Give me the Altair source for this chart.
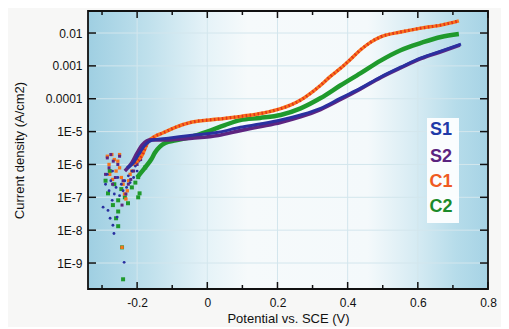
import altair as alt
import pandas as pd

# ---------------- data ----------------
series_names = ["S1", "S2", "C1", "C2"]
series_colors = ["#2a30a0", "#5e2580", "#f7741c", "#1f9a2c"]
legend_colors = ["#1f3aa8", "#5b2480", "#ef5a22", "#1b8a2a"]

# smooth polarisation curves (potential V vs SCE, current density A/cm2)
s1_v = [-0.229, -0.211, -0.197, -0.177, -0.157, -0.111, -0.043, 0.031, 0.094, 0.15,
        0.209, 0.266, 0.323, 0.38, 0.437, 0.494, 0.551, 0.609, 0.666, 0.723]
s1_j = [7.9e-7, 1.1e-6, 1.9e-6, 3.9e-6, 5.5e-6, 6.3e-6, 7.8e-6, 9.5e-6, 1.35e-5, 1.7e-5,
        2.24e-5, 3.2e-5, 5.1e-5, 1.05e-4, 2.1e-4, 4.6e-4, 9.1e-4, 1.74e-3, 2.8e-3, 4.6e-3]

s2_v = [-0.235, -0.215, -0.2, -0.185, -0.16, -0.11, -0.043, 0.031, 0.094, 0.15,
        0.209, 0.266, 0.323, 0.38, 0.437, 0.494, 0.551, 0.609, 0.666, 0.72]
s2_j = [6.3e-7, 1.12e-6, 2.24e-6, 4.0e-6, 5.6e-6, 5.6e-6, 6.3e-6, 7.6e-6, 1.07e-5, 1.41e-5,
        1.9e-5, 2.8e-5, 4.7e-5, 9.5e-5, 2.0e-4, 4.4e-4, 8.7e-4, 1.66e-3, 2.7e-3, 4.3e-3]

c1_v = [-0.206, -0.186, -0.169, -0.15, -0.129, -0.091, -0.043, 0.031, 0.1, 0.16,
        0.209, 0.24, 0.266, 0.295, 0.323, 0.35, 0.38, 0.408, 0.437, 0.465,
        0.494, 0.551, 0.609, 0.666, 0.717]
c1_j = [1.1e-6, 1.9e-6, 4.8e-6, 7.1e-6, 8.9e-6, 1.35e-5, 1.95e-5, 2.4e-5, 2.95e-5, 3.7e-5,
        5.0e-5, 6.6e-5, 9.1e-5, 1.48e-4, 2.57e-4, 4.7e-4, 8.5e-4, 1.58e-3, 3.1e-3, 5.2e-3,
        7.6e-3, 1.07e-2, 1.41e-2, 1.74e-2, 2.34e-2]

c2_v = [-0.2, -0.177, -0.16, -0.149, -0.12, -0.09, -0.043, 0.0, 0.05, 0.094,
        0.15, 0.209, 0.266, 0.323, 0.38, 0.437, 0.494, 0.551, 0.609, 0.666, 0.717]
c2_j = [4.0e-7, 8.1e-7, 1.41e-6, 2.3e-6, 4.5e-6, 5.4e-6, 7.1e-6, 1.0e-5, 1.58e-5, 2.24e-5,
        2.6e-5, 3.2e-5, 5.1e-5, 1.05e-4, 2.57e-4, 6.0e-4, 1.45e-3, 3.0e-3, 5.0e-3, 7.6e-3, 9.3e-3]

# noisy points near the corrosion potential
s1_sv = [-0.297, -0.283, -0.277, -0.269, -0.266, -0.257, -0.237, -0.271, -0.29, -0.285,
         -0.28, -0.275, -0.27, -0.265, -0.26, -0.255, -0.25, -0.245, -0.24, -0.235,
         -0.23, -0.225, -0.22, -0.215, -0.21, -0.205, -0.2, -0.195, -0.19, -0.185]
s1_sj = [5.0e-8, 4.0e-8, 2.3e-8, 1.41e-8, 7.9e-9, 2.5e-8, 1.05e-9, 8.1e-8, 2.5e-7, 5.0e-7,
         1.58e-7, 3.2e-7, 6.3e-7, 1.26e-7, 2.0e-7, 4.0e-7, 1.12e-7, 2.5e-7, 1.58e-7, 3.2e-7,
         2.0e-7, 4.5e-7, 2.8e-7, 6.3e-7, 4.0e-7, 8.9e-7, 6.3e-7, 1.26e-6, 2.2e-6, 3.2e-6]

s2_sv = [-0.285, -0.28, -0.275, -0.268, -0.262, -0.255, -0.25, -0.243, -0.24, -0.232,
         -0.225, -0.218, -0.21, -0.2, -0.19, -0.18, -0.29, -0.27]
s2_sj = [1.58e-6, 7.9e-7, 2.0e-6, 1.26e-6, 4.0e-7, 1.0e-6, 1.78e-6, 5.8e-8, 3.2e-7, 1.26e-7,
         2.5e-7, 3.5e-7, 6.3e-7, 1.0e-6, 1.41e-6, 3.2e-6, 5.0e-7, 2.5e-7]

c1_sv = [-0.285, -0.28, -0.272, -0.265, -0.26, -0.255, -0.25, -0.245, -0.24, -0.236,
         -0.232, -0.228, -0.224, -0.22, -0.215, -0.21, -0.243, -0.278, -0.27, -0.25,
         -0.2, -0.195]
c1_sj = [1.78e-6, 1.0e-6, 2.0e-6, 1.41e-6, 6.3e-7, 1.26e-6, 7.9e-7, 4.0e-7, 2.5e-7, 1.26e-7,
         8.9e-8, 1.58e-7, 3.2e-7, 5.0e-7, 6.3e-7, 1.0e-6, 3.0e-9, 5.0e-7, 3.5e-7, 2.0e-6,
         1.26e-6, 1.58e-6]

c2_sv = [-0.283, -0.269, -0.254, -0.254, -0.26, -0.254, -0.243, -0.24, -0.226, -0.197,
         -0.193, -0.197, -0.177, -0.29, -0.278, -0.265, -0.245, -0.235, -0.215, -0.205]
c2_sj = [1.32e-7, 5.8e-8, 8.1e-8, 3.7e-8, 2.3e-8, 1.32e-8, 3.0e-9, 3.2e-10, 6.6e-8, 1.0e-7,
         1.32e-7, 4.1e-7, 8.1e-7, 3.2e-7, 6.3e-7, 2.5e-7, 1.78e-7, 1.0e-7, 2.0e-7, 2.8e-7]

x_major = [-0.2, 0.0, 0.2, 0.4, 0.6, 0.8]
x_minor = [-0.3, -0.1, 0.1, 0.3, 0.5, 0.7]
y_major = [1e-9, 1e-8, 1e-7, 1e-6, 1e-5, 1e-4, 1e-3, 1e-2]

# ---------------- chart ----------------
W, H = 400, 278
FONT = "Liberation Sans"
GRID = "#d3e6ed"

xs = alt.Scale(domain=[-0.34, 0.8], nice=False, zero=False)
ys = alt.Scale(type="log", domain=[1.62e-10, 0.0468], nice=False)

xaxis = alt.Axis(values=x_major, labelExpr="'' + datum.value", grid=False, ticks=False,
                 domain=False, labelFont=FONT, labelFontSize=12, labelColor="#111",
                 labelPadding=8, title="Potential vs. SCE (V)", titleFont=FONT,
                 titleFontSize=13, titleFontWeight="normal", titleColor="#111",
                 titlePadding=4, labelFlush=False)
yaxis = alt.Axis(values=y_major,
                 labelExpr="datum.value >= 0.0001 ? '' + datum.value : '1E' + round(log(datum.value) / LN10)",
                 grid=False, ticks=False, domain=False, labelFont=FONT, labelFontSize=12,
                 labelColor="#111", labelPadding=6, title="Current density (A/cm2)",
                 titleFont=FONT, titleFontSize=13, titleFontWeight="normal",
                 titleColor="#111", titleX=-69, titleY=H / 2, titleAlign="center",
                 titleBaseline="middle", titleAngle=270)

one = pd.DataFrame({"a": [0]})

bg = alt.Chart(one).mark_rect(
    fill=alt.LinearGradient(
        gradient="linear", x1=0, x2=1, y1=0, y2=0,
        stops=[alt.GradientStop(offset=0, color="#9fcfe2"),
               alt.GradientStop(offset=0.15, color="#bfe0ec"),
               alt.GradientStop(offset=0.3, color="#e6f3f8"),
               alt.GradientStop(offset=0.4, color="#f6fafb"),
               alt.GradientStop(offset=0.7, color="#f4f9fb"),
               alt.GradientStop(offset=0.82, color="#d6ebf3"),
               alt.GradientStop(offset=0.92, color="#b6dcea"),
               alt.GradientStop(offset=1, color="#a6d3e5")]),
).encode(x=alt.value(0), x2=alt.value(W), y=alt.value(0), y2=alt.value(H))

xmaj_df = pd.DataFrame({"v": x_major})
xmin_df = pd.DataFrame({"v": x_minor})
ymaj_df = pd.DataFrame({"j": y_major})

xgrid = alt.Chart(xmaj_df).mark_rule(color=GRID, strokeWidth=1).encode(
    x=alt.X("v:Q", scale=xs, axis=xaxis))
ygrid = alt.Chart(ymaj_df).mark_rule(color=GRID, strokeWidth=1).encode(
    y=alt.Y("j:Q", scale=ys, axis=yaxis))

tick_style = dict(color="#111", strokeWidth=1.5)
xt_bot = alt.Chart(xmaj_df).mark_rule(**tick_style).encode(
    x=alt.X("v:Q", scale=xs, axis=xaxis), y=alt.value(H), y2=alt.value(H - 7))
xt_top = alt.Chart(xmaj_df).mark_rule(**tick_style).encode(
    x=alt.X("v:Q", scale=xs, axis=xaxis), y=alt.value(0), y2=alt.value(7))
xm_bot = alt.Chart(xmin_df).mark_rule(**tick_style).encode(
    x=alt.X("v:Q", scale=xs, axis=xaxis), y=alt.value(H), y2=alt.value(H - 4))
xm_top = alt.Chart(xmin_df).mark_rule(**tick_style).encode(
    x=alt.X("v:Q", scale=xs, axis=xaxis), y=alt.value(0), y2=alt.value(4))
yt_l = alt.Chart(ymaj_df).mark_rule(**tick_style).encode(
    y=alt.Y("j:Q", scale=ys, axis=yaxis), x=alt.value(0), x2=alt.value(8))
yt_r = alt.Chart(ymaj_df).mark_rule(**tick_style).encode(
    y=alt.Y("j:Q", scale=ys, axis=yaxis), x=alt.value(W), x2=alt.value(W - 8))

def enc(ch):
    return ch.encode(x=alt.X("v:Q", scale=xs, axis=xaxis),
                     y=alt.Y("j:Q", scale=ys, axis=yaxis))

def line(v, j, color, width, **kw):
    return enc(alt.Chart(pd.DataFrame({"v": v, "j": j})).mark_line(
        color=color, strokeWidth=width, interpolate="monotone", **kw))

def pts(v, j, color, size, shape):
    return enc(alt.Chart(pd.DataFrame({"v": v, "j": j})).mark_point(
        color=color, fill=color, filled=True, size=size, shape=shape, opacity=1))

c2_line = line(c2_v, c2_j, series_colors[3], 4.5)
c1_line = line(c1_v, c1_j, series_colors[2], 3.5)
c1_dots = line(c1_v, c1_j, "#e2301c", 3.0, strokeDash=[1.5, 2.5])
s2_line = line(s2_v, s2_j, series_colors[1], 3.6)
s1_line = line(s1_v, s1_j, series_colors[0], 3.0)

c2_pts = pts(c2_sv, c2_sj, series_colors[3], 16, "square")
c1_pts = pts(c1_sv, c1_sj, series_colors[2], 11, "square")
s2_pts = pts(s2_sv, s2_sj, series_colors[1], 9, "square")
s1_pts = pts(s1_sv, s1_sj, series_colors[0], 8, "circle")

frame = alt.Chart(one).mark_rect(fill="transparent", stroke="#111", strokeWidth=1.8).encode(
    x=alt.value(0), x2=alt.value(W), y=alt.value(0), y2=alt.value(H))

leg_box = alt.Chart(one).mark_rect(fill="white", opacity=0.92).encode(
    x=alt.value(339), x2=alt.value(371), y=alt.value(107), y2=alt.value(212))
leg_y = [119, 146, 171, 196]
leg_texts = [
    alt.Chart(one).mark_text(text=name, font=FONT, fontSize=18, fontWeight="bold",
                             color=col, align="center", baseline="middle").encode(
        x=alt.value(353), y=alt.value(yy))
    for name, col, yy in zip(series_names, legend_colors, leg_y)
]

chart = alt.layer(
    bg, xgrid, ygrid,
    c2_pts, c1_pts, s2_pts, s1_pts,
    c2_line, c1_line, c1_dots, s2_line, s1_line,
    xt_bot, xt_top, xm_bot, xm_top, yt_l, yt_r, frame,
    leg_box, *leg_texts,
).properties(
    width=W, height=H,
    autosize=alt.AutoSizeParams(type="none"),
    padding={"left": 80, "top": 3, "right": 13, "bottom": 38},
    background="#f7f7f6",
).configure_view(stroke=None)

chart.save("out.html", embed_options={"renderer": "svg", "actions": False})
